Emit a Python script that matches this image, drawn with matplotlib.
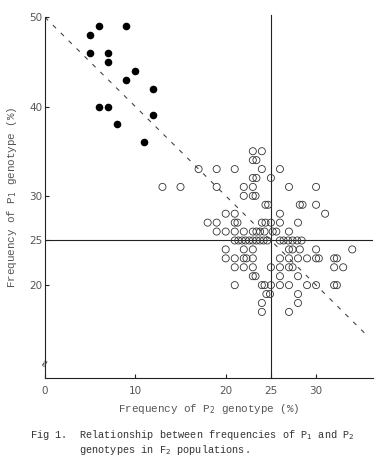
import numpy as np
import matplotlib.pyplot as plt

# filled dots (upper left group)
p2_solid = [6, 9, 5, 5, 7, 7, 10, 9, 12, 6, 7, 12, 8, 11]
p1_solid = [49, 49, 48, 46, 46, 45, 44, 43, 42, 40, 40, 39, 38, 36]

# open circles, listed row by row (P1 value : P2 values)
rows_p1 = [35, 34, 33, 32, 31, 30, 29, 28, 27, 26, 25, 24, 23, 22, 21, 20, 19, 18, 17]
rows_p2 = [
    [23, 24],
    [23, 23.4],
    [17, 19, 21, 24, 26],
    [23, 23.4, 25],
    [13, 15, 19, 22, 23, 27, 30],
    [22, 23, 23.3],
    [24.4, 24.7, 28.2, 28.5, 30],
    [20, 21, 26, 31],
    [18, 19, 21, 21.3, 24, 24.4, 25, 26, 28],
    [19, 20, 21, 22, 23, 23.4, 23.8, 24.3, 25.2, 25.6, 27],
    [21, 21.4, 21.8, 22.2, 22.6, 23, 23.4, 23.8, 24.2, 24.6, 26, 26.4, 26.9, 27.4, 27.9, 28.4],
    [20, 22, 23, 27, 27.4, 28.2, 30, 34],
    [20, 21, 22, 22.3, 23, 26, 27, 28, 29, 30, 30.3, 32, 32.3],
    [21, 22, 23, 25, 26, 27, 27.4, 32, 33],
    [23, 23.3, 26, 28],
    [21, 24, 24.3, 25, 26, 27, 29, 30, 32, 32.3],
    [24.5, 24.9, 28],
    [24, 28],
    [24, 27],
]
p2_open = [v for r in rows_p2 for v in r]
p1_open = [y for y, r in zip(rows_p1, rows_p2) for v in r]

x_ticks = [0, 10, 20, 25, 30]
y_ticks = [20, 25, 30, 40, 50]

plt.rcParams['font.family'] = 'DejaVu Sans'
fig = plt.figure(figsize=(3.91, 4.67), dpi=100)
ax = fig.add_axes([0.115, 0.1906, 0.839, 0.7724])

grey = '#555555'
ax.scatter(p2_solid, p1_solid, s=20, color='black', zorder=3)
ax.scatter(p2_open, p1_open, s=26, facecolors='none', edgecolors='#333333',
           linewidths=0.6, zorder=3)

# expectation line P1 + P2 = 50
lx = np.array([0, 35.8])
ax.plot(lx, 50 - lx, color='#444444', lw=0.8, linestyle=(0, (4, 6)))

ax.axvline(25, ymin=0, ymax=1.005, color='#222222', lw=0.8, clip_on=False)
ax.axhline(25, color='#222222', lw=0.8)

ax.set_xlim(0, 36.3)
ax.set_ylim(9.6, 50)
ax.spines['top'].set_visible(False)
ax.spines['right'].set_visible(False)
ax.spines['left'].set_color('#222222')
ax.spines['bottom'].set_color('#222222')
ax.set_xticks(x_ticks)
ax.set_yticks(y_ticks)
ax.tick_params(direction='in', length=3, width=0.8, labelsize=7.5,
               labelcolor=grey, colors='#222222')
ax.tick_params(axis='x', pad=6)
ax.tick_params(axis='y', pad=2)

# axis break mark
ax.text(0, 11.4, '\u2248', rotation=60, ha='center', va='center', fontsize=8,
        color='#333333')

mono = 'Liberation Mono'
ax.set_xlabel('Frequency of P$_2$ genotype (%)', family=mono, fontsize=7.8,
              color=grey, labelpad=4)
ax.set_ylabel('Frequency of P$_1$ genotype (%)', family=mono, fontsize=7.8,
              color=grey, labelpad=7)

fig.text(0.077, 0.069, 'Fig 1.  Relationship between frequencies of P$_1$ and P$_2$',
         family=mono, fontsize=7.4, color='#333333', va='center')
fig.text(0.077, 0.037, '        genotypes in F$_2$ populations.',
         family=mono, fontsize=7.4, color='#333333', va='center')

fig.savefig('out.png', dpi=100)
